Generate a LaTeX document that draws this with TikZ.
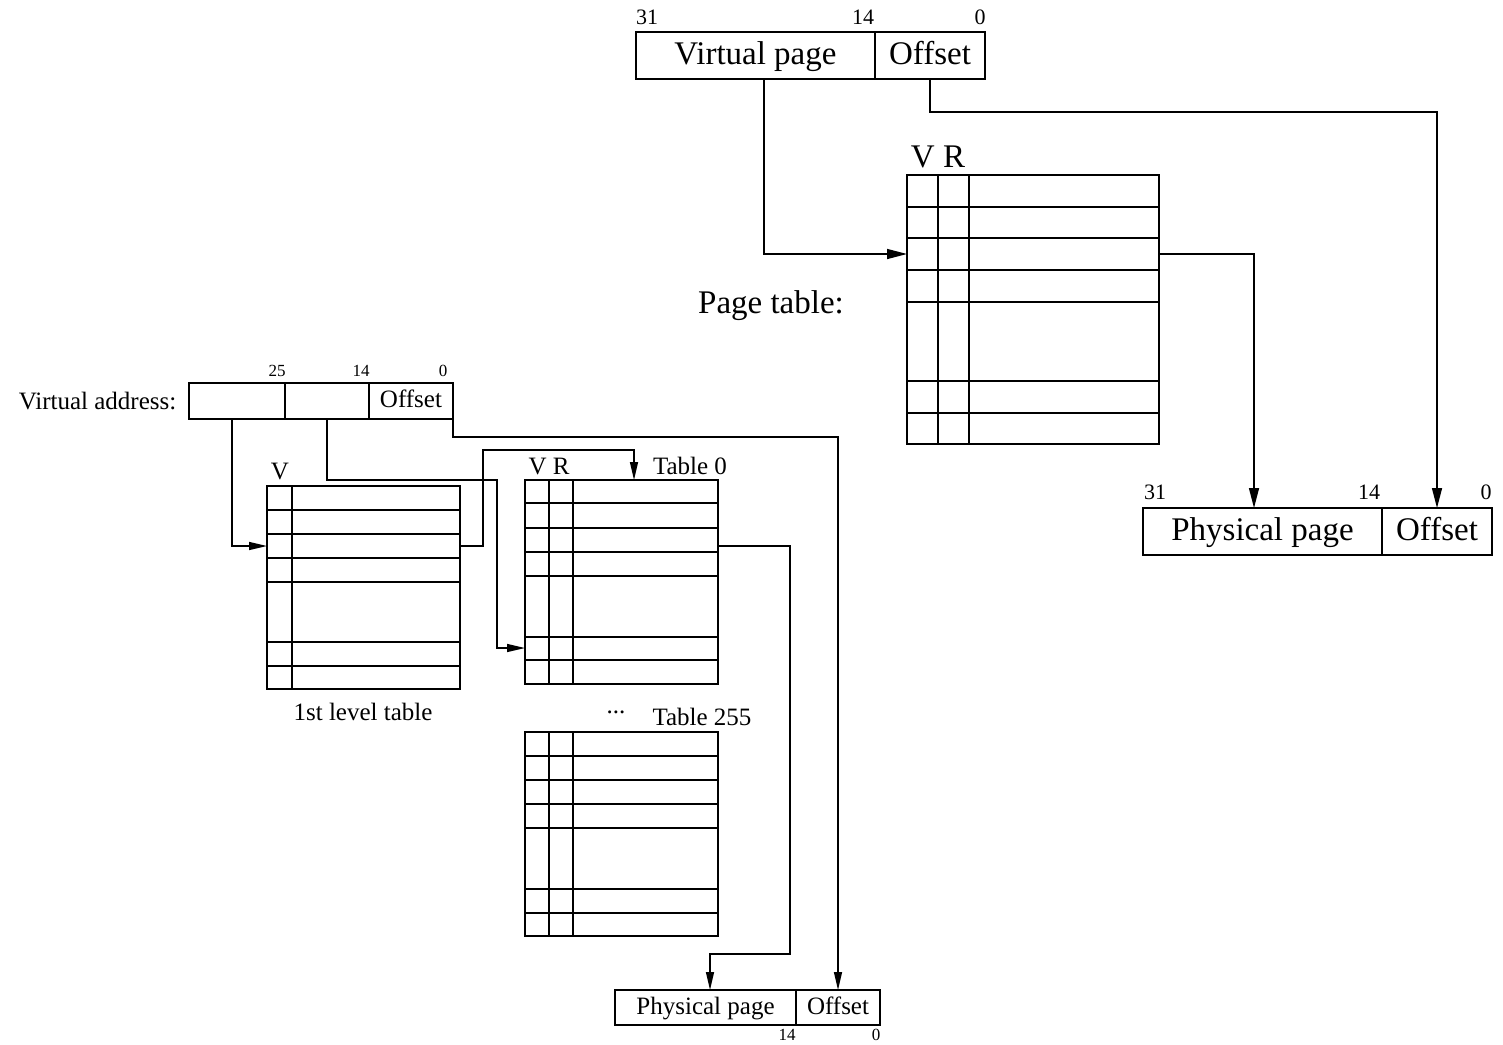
\documentclass[tikz,border=0pt]{standalone}
\usepackage{fontspec}
\setmainfont{Liberation Serif}
\usetikzlibrary{arrows.meta,calc}
\begin{document}
\begin{tikzpicture}[x=0.5pt,y=-0.5pt,line width=0.7pt,
  fld/.style={draw,rectangle,inner sep=0pt,outer sep=0pt},
  big/.style={font=\fontsize{16.5}{18}\selectfont,inner sep=0pt},
  med/.style={font=\fontsize{12.5}{14}\selectfont,inner sep=0pt},
  bigt/.style={big,text height=12.4pt,text depth=3.3pt},
  medt/.style={med,text height=9.4pt,text depth=2.5pt},
  numb/.style={font=\fontsize{11}{12}\selectfont,inner sep=0pt},
  nums/.style={font=\fontsize{8.5}{10}\selectfont,inner sep=0pt},
  arr/.style={-{Triangle[length=10pt,width=5pt]}},
  sarr/.style={-{Triangle[length=9pt,width=4pt]}}]
\useasboundingbox (0,0) rectangle (1503,1044);

% ---------- top: single-level ----------
\node[fld,bigt,minimum width=119.5pt,minimum height=23.5pt] (vp) at (755.5,55.5) {Virtual page};
\node[fld,bigt,minimum width=55pt,minimum height=23.5pt] (off1) at (930,55.5) {Offset};
\node[numb] (n31a) at (647,17) {31};
\node[numb] (n14a) at (863,17) {14};
\node[numb] (n0a) at (980,17) {0};

\node[fld,minimum width=126pt,minimum height=134.5pt] (pt) at (1033,309.5) {};
\foreach \y in {207,238,270,302,381,413} \draw (pt.west |- 0,\y) -- (pt.east |- 0,\y);
\foreach \x in {938,969} \draw (\x,0 |- pt.north) -- (\x,0 |- pt.south);
\node[big] (ptvr) at (938,157) {V R};
\node[big] (ptlab) at (771,306) {Page table:};

\node[fld,bigt,minimum width=119.5pt,minimum height=23.5pt] (pp) at (1262.5,531.5) {Physical page};
\node[fld,bigt,minimum width=55pt,minimum height=23.5pt] (off2) at (1437,531.5) {Offset};
\node[numb] (n31b) at (1155,492) {31};
\node[numb] (n14b) at (1369,492) {14};
\node[numb] (n0b) at (1486,492) {0};

\draw[arr] (vp.south -| 764,0) |- (pt.west |- 0,254);
\draw[arr] (pt.east |- 0,254) -| (pp.north -| 1254,0);
\draw[arr] (off1.south) -- ++(0,33) -| (off2.north);

% ---------- bottom-left: two-level ----------
\node[med,anchor=east] (valab) at (177,401) {Virtual address:};
\node[fld,minimum width=48pt,minimum height=18pt] (va1) at (237,401) {};
\node[fld,minimum width=42pt,minimum height=18pt] (va2) at (327,401) {};
\node[fld,medt,minimum width=42pt,minimum height=18pt] (va3) at (411,401) {Offset};
\node[nums] (n25c) at (277,371) {25};
\node[nums] (n14c) at (361,371) {14};
\node[nums] (n0c) at (443,371) {0};

\node[fld,minimum width=96.5pt,minimum height=101.5pt] (t1) at (363.5,587.5) {};
\foreach \y in {510,534,558,582,642,666} \draw (t1.west |- 0,\y) -- (t1.east |- 0,\y);
\draw (292,0 |- t1.north) -- (292,0 |- t1.south);
\node[med] (t1v) at (280,471) {V};
\node[med] (t1lab) at (363,712) {1st level table};

\node[fld,minimum width=96.5pt,minimum height=102pt] (t0) at (621.5,582) {};
\foreach \y in {503,528,552,576,637,660} \draw (t0.west |- 0,\y) -- (t0.east |- 0,\y);
\foreach \x in {549,573} \draw (\x,0 |- t0.north) -- (\x,0 |- t0.south);
\node[med] (t0vr) at (549,466) {V R};
\node[med] (t0lab) at (690,466) {Table 0};

\node[fld,minimum width=96.5pt,minimum height=102pt] (t255) at (621.5,834) {};
\foreach \y in {756,780,804,828,889,913} \draw (t255.west |- 0,\y) -- (t255.east |- 0,\y);
\foreach \x in {549,573} \draw (\x,0 |- t255.north) -- (\x,0 |- t255.south);
\node[med] (dots) at (616,712) {...};
\node[med] (t255lab) at (702,717) {Table 255};

\node[fld,medt,minimum width=90.5pt,minimum height=17.5pt] (pp2) at (705.5,1007.5) {Physical page};
\node[fld,medt,minimum width=42pt,minimum height=17.5pt] (off3) at (838,1007.5) {Offset};
\node[nums] (n14d) at (787,1035) {14};
\node[nums] (n0d) at (876,1035) {0};

\draw[sarr] (va1.south -| 232,0) |- (t1.west |- 0,546);
\draw[sarr] (va2.south) |- (497,480) |- (t0.west |- 0,648);
\draw[sarr] (t1.east |- 0,546) -| (483,450) -| (t0.north -| 634,0);
\draw[sarr] (t0.east |- 0,546) -| (790,954) -| (pp2.north -| 710,0);
\draw[sarr] (va3.south east) -- ++(0,18) -| (off3.north);
\end{tikzpicture}
\end{document}
